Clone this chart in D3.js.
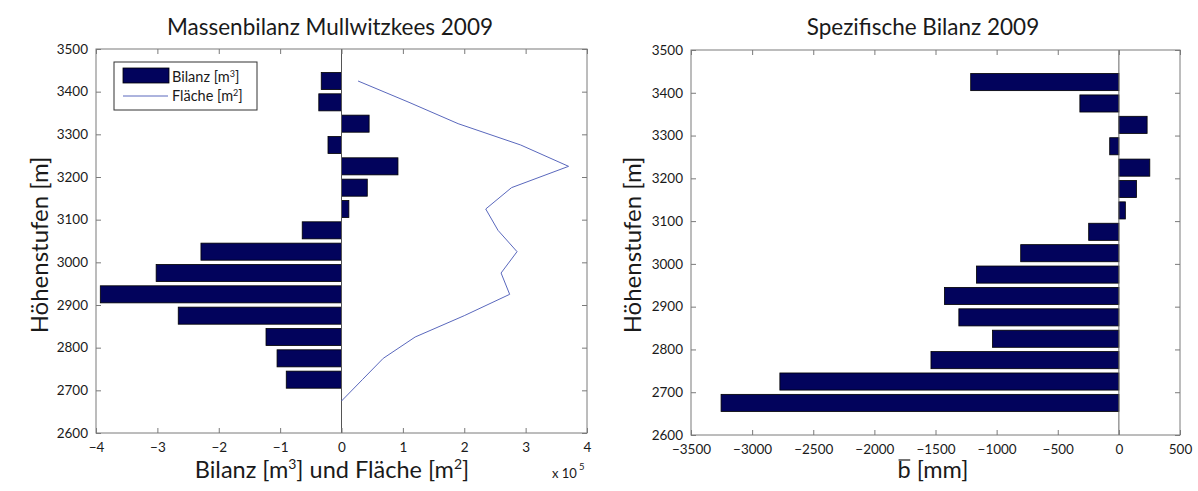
<!DOCTYPE html>
<html>
<head>
<meta charset="utf-8">
<script src="https://cdn.jsdelivr.net/npm/d3@7/dist/d3.min.js"></script>
<style>
  html, body { margin: 0; padding: 0; background: #ffffff; }
  svg { display: block; font-family: Lato, "Open Sans", sans-serif; }
</style>
</head>
<body>
<svg id="chart" width="1198" height="491"></svg>
<script>
// ---------------- DATA ----------------
// Elevation band centres [m]
const elevations = [2675, 2725, 2775, 2825, 2875, 2925, 2975, 3025, 3075, 3125, 3175, 3225, 3275, 3325, 3375, 3425];
// Mass balance per band [m³]
const bilanz = [0, -90000, -105000, -123000, -266000, -393000, -302000, -229000, -64000, 12000, 42000, 92000, -22000, 45000, -37000, -33000];
// Glacier area per band [m²]
const flaeche = [0, 34000, 68000, 120000, 200000, 274000, 260000, 286000, 255000, 235000, 277000, 370000, 292000, 190000, 110000, 27000];
// Specific balance per band [mm w.e.]
const spezBilanz = [-3254, -2773, -1537, -1034, -1309, -1427, -1165, -803, -247, 53, 144, 253, -75, 231, -319, -1212];

// Tick values
const yTicks = [2600, 2700, 2800, 2900, 3000, 3100, 3200, 3300, 3400, 3500];
const xTicksLeft = [-400000, -300000, -200000, -100000, 0, 100000, 200000, 300000, 400000];
const xTicksRight = [-3500, -3000, -2500, -2000, -1500, -1000, -500, 0, 500];

// ---------------- STYLE / LAYOUT ----------------
const barColor = "#02035c";
const lineColor = "#5a68bd";
const axisColor = "#7a7a7a";
const textColor = "#1a1a1a";
const bandHalf = 20; // bar half-height in metres (bar width 0.8 of 50 m)

const svg = d3.select("#chart");

const L = { x0: 96, x1: 587, y0: 49, y1: 433 };
const R = { x0: 691, x1: 1180, y0: 50, y1: 435 };

const xL = d3.scaleLinear().domain([-400000, 400000]).range([L.x0, L.x1]);
const yL = d3.scaleLinear().domain([2600, 3500]).range([L.y1, L.y0]);
const xR = d3.scaleLinear().domain([-3500, 500]).range([R.x0, R.x1]);
const yR = d3.scaleLinear().domain([2600, 3500]).range([R.y1, R.y0]);

const minusFmt = v => (v < 0 ? "\u2212" : "") + Math.abs(v);

function drawAxes(P, x, y, xTicks, xFmt) {
  const g = svg.append("g");
  const fs = 13.5;
  const bottom = g.append("g").attr("transform", `translate(0,${P.y1})`)
    .call(d3.axisBottom(x).tickValues(xTicks).tickSizeInner(-5).tickSizeOuter(0).tickPadding(9).tickFormat(xFmt));
  const top = g.append("g").attr("transform", `translate(0,${P.y0})`)
    .call(d3.axisTop(x).tickValues(xTicks).tickSizeInner(-5).tickSizeOuter(0).tickFormat(""));
  const left = g.append("g").attr("transform", `translate(${P.x0},0)`)
    .call(d3.axisLeft(y).tickValues(yTicks).tickSizeInner(-5).tickSizeOuter(0).tickPadding(8).tickFormat(d => d));
  const right = g.append("g").attr("transform", `translate(${P.x1},0)`)
    .call(d3.axisRight(y).tickValues(yTicks).tickSizeInner(-5).tickSizeOuter(0).tickFormat(""));
  [bottom, top, left, right].forEach(a => {
    a.select(".domain").remove();
    a.selectAll(".tick line").attr("stroke", axisColor);
    a.selectAll(".tick text").attr("font-size", fs).attr("font-family", "Lato, sans-serif").attr("fill", textColor);
  });
  g.append("rect").attr("x", P.x0).attr("y", P.y0)
    .attr("width", P.x1 - P.x0).attr("height", P.y1 - P.y0)
    .attr("fill", "none").attr("stroke", axisColor).attr("stroke-width", 1);
}

// ---------------- LEFT PANEL ----------------
const gl = svg.append("g");
const leftData = elevations.map((e, i) => ({ e, v: bilanz[i], a: flaeche[i] }));

gl.selectAll("rect.bar").data(leftData.filter(d => d.v !== 0)).join("rect")
  .attr("class", "bar")
  .attr("x", d => xL(Math.min(0, d.v)))
  .attr("width", d => Math.abs(xL(d.v) - xL(0)))
  .attr("y", d => yL(d.e + bandHalf))
  .attr("height", d => yL(d.e - bandHalf) - yL(d.e + bandHalf))
  .attr("fill", barColor).attr("stroke", "#000").attr("stroke-width", 0.8);

gl.append("line").attr("x1", xL(0)).attr("x2", xL(0)).attr("y1", L.y0).attr("y2", L.y1)
  .attr("stroke", "#555").attr("stroke-width", 1);

gl.append("path").datum(leftData)
  .attr("d", d3.line().x(d => xL(d.a)).y(d => yL(d.e)))
  .attr("fill", "none").attr("stroke", lineColor).attr("stroke-width", 1);

drawAxes(L, xL, yL, xTicksLeft, d => minusFmt(d / 100000));

// legend
const lg = svg.append("g");
lg.append("rect").attr("x", 114).attr("y", 62).attr("width", 143).attr("height", 48)
  .attr("fill", "#fff").attr("stroke", "#333").attr("stroke-width", 1);
lg.append("rect").attr("x", 123).attr("y", 68).attr("width", 46).attr("height", 15)
  .attr("fill", barColor).attr("stroke", "#000").attr("stroke-width", 0.8);
lg.append("line").attr("x1", 123).attr("x2", 168).attr("y1", 96).attr("y2", 96)
  .attr("stroke", lineColor).attr("stroke-width", 1);
const lt1 = lg.append("text").attr("x", 172).attr("y", 82).attr("font-size", 14.5).attr("fill", textColor);
lt1.append("tspan").text("Bilanz [m");
lt1.append("tspan").attr("font-size", 9).attr("dy", -5).text("3");
lt1.append("tspan").attr("dy", 5).text("]");
const lt2 = lg.append("text").attr("x", 172).attr("y", 101).attr("font-size", 14.5).attr("fill", textColor);
lt2.append("tspan").text("Fläche [m");
lt2.append("tspan").attr("font-size", 9).attr("dy", -5).text("2");
lt2.append("tspan").attr("dy", 5).text("]");

// titles and labels (left)
svg.append("text").attr("x", 330).attr("y", 35).attr("text-anchor", "middle")
  .attr("font-size", 22.5).attr("fill", textColor).text("Massenbilanz Mullwitzkees 2009");

const xlL = svg.append("text").attr("x", 332).attr("y", 478).attr("text-anchor", "middle")
  .attr("font-size", 23.5).attr("fill", textColor);
xlL.append("tspan").text("Bilanz [m");
xlL.append("tspan").attr("font-size", 14).attr("dy", -9).text("3");
xlL.append("tspan").attr("dy", 9).text("] und Fläche [m");
xlL.append("tspan").attr("font-size", 14).attr("dy", -9).text("2");
xlL.append("tspan").attr("dy", 9).text("]");

const xe = svg.append("text").attr("x", 552).attr("y", 478).attr("font-size", 13).attr("fill", textColor);
xe.append("tspan").text("x 10");
xe.append("tspan").attr("font-size", 9.5).attr("dy", -8).attr("dx", 2).text("5");

svg.append("text").attr("transform", "translate(48,245) rotate(-90)").attr("text-anchor", "middle")
  .attr("font-size", 24).attr("fill", textColor).text("Höhenstufen [m]");

// ---------------- RIGHT PANEL ----------------
const gr = svg.append("g");
const rightData = elevations.map((e, i) => ({ e, v: spezBilanz[i] }));
gr.selectAll("rect.bar").data(rightData).join("rect")
  .attr("class", "bar")
  .attr("x", d => xR(Math.min(0, d.v)))
  .attr("width", d => Math.abs(xR(d.v) - xR(0)))
  .attr("y", d => yR(d.e + bandHalf))
  .attr("height", d => yR(d.e - bandHalf) - yR(d.e + bandHalf))
  .attr("fill", barColor).attr("stroke", "#000").attr("stroke-width", 0.8);

gr.append("line").attr("x1", xR(0)).attr("x2", xR(0)).attr("y1", R.y0).attr("y2", R.y1)
  .attr("stroke", "#666").attr("stroke-width", 1);

drawAxes(R, xR, yR, xTicksRight, d => minusFmt(d));

svg.append("text").attr("x", 923).attr("y", 35).attr("text-anchor", "middle")
  .attr("font-size", 22.5).attr("fill", textColor).text("Spezifische Bilanz 2009");

const xlR = svg.append("text").attr("x", 933).attr("y", 478).attr("text-anchor", "middle")
  .attr("font-size", 23.5).attr("fill", textColor).text("b [mm]");
// overline over the "b" (mean specific balance)
{
  const n = xlR.node();
  const s = n.getStartPositionOfChar(0);
  const e = n.getEndPositionOfChar(0);
  svg.append("line").attr("x1", s.x + 1).attr("x2", e.x - 0.5)
    .attr("y1", 478 - 18).attr("y2", 478 - 18)
    .attr("stroke", textColor).attr("stroke-width", 1.2);
}

svg.append("text").attr("transform", "translate(641,245) rotate(-90)").attr("text-anchor", "middle")
  .attr("font-size", 24).attr("fill", textColor).text("Höhenstufen [m]");
</script>
</body>
</html>
